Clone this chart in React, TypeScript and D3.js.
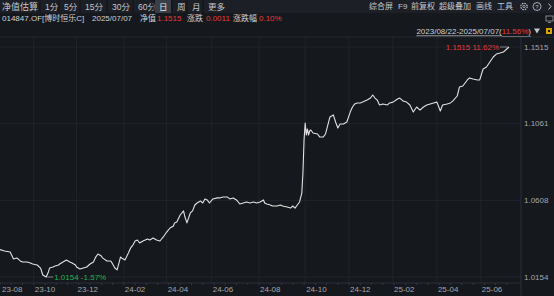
import React from "react";
import * as d3 from "d3";

// ---- data ----
const navDay = [0, 4, 9, 12, 15, 18, 20, 24, 27, 29, 33, 36, 38, 41, 43, 44, 47, 49, 52, 53, 56, 59, 62, 64, 67, 68, 71, 74, 77, 80, 83, 85, 87, 90, 91, 95, 98, 99, 102, 104, 107, 108, 111, 114, 116, 118, 120, 122, 124, 127, 131, 133, 136, 139, 142, 145, 148, 151, 154, 155, 157, 160, 163, 164, 166, 169, 171, 173, 175, 178, 180, 182, 184, 186, 189, 193, 195, 198, 202, 204, 207, 210, 213, 216, 219, 222, 225, 228, 231, 234, 235, 237, 240, 242, 246, 249, 251, 255, 258, 260, 262, 264, 266, 268, 269, 270, 271, 272, 273, 274, 275, 276, 278, 282, 284, 287, 289, 290, 293, 296, 298, 300, 302, 305, 308, 311, 313, 315, 317, 320, 322, 326, 329, 331, 333, 335, 337, 340, 344, 346, 349, 353, 355, 358, 361, 364, 367, 370, 373, 376, 379, 382, 385, 388, 391, 393, 397, 400, 402, 406, 408, 411, 415, 417, 420, 424, 426, 429, 432, 435, 438, 441, 444, 447, 450, 452];
const navValue = [1.0316, 1.0308, 1.0302, 1.0261, 1.0267, 1.0249, 1.0243, 1.0243, 1.0237, 1.0231, 1.0225, 1.0207, 1.0166, 1.0154, 1.0184, 1.0207, 1.0213, 1.0219, 1.0225, 1.0231, 1.0243, 1.0255, 1.0243, 1.0237, 1.0225, 1.0213, 1.0201, 1.0207, 1.0213, 1.0231, 1.0243, 1.0272, 1.029, 1.0278, 1.0267, 1.0249, 1.0249, 1.0243, 1.0207, 1.0196, 1.0272, 1.0267, 1.0255, 1.0296, 1.0326, 1.0343, 1.0367, 1.0373, 1.0355, 1.0367, 1.0379, 1.0373, 1.0385, 1.0373, 1.0367, 1.0391, 1.042, 1.0444, 1.0456, 1.0474, 1.048, 1.0521, 1.0545, 1.0515, 1.0474, 1.0533, 1.0545, 1.058, 1.0592, 1.0604, 1.0592, 1.0616, 1.061, 1.0592, 1.0616, 1.0622, 1.0622, 1.0627, 1.0627, 1.0616, 1.0622, 1.061, 1.0586, 1.0592, 1.0598, 1.0592, 1.0598, 1.0592, 1.0598, 1.061, 1.0592, 1.0586, 1.058, 1.0574, 1.0574, 1.058, 1.0574, 1.0568, 1.0562, 1.0574, 1.0562, 1.058, 1.0598, 1.0651, 1.0769, 1.0965, 1.1065, 1.0994, 1.103, 1.0994, 1.1018, 1.1024, 1.1006, 1.1, 1.0982, 1.0982, 1.1, 1.1024, 1.1101, 1.1113, 1.1071, 1.1036, 1.1059, 1.1059, 1.1071, 1.113, 1.116, 1.1178, 1.1184, 1.1184, 1.1189, 1.1201, 1.1213, 1.1231, 1.1213, 1.1201, 1.1172, 1.1178, 1.1172, 1.1184, 1.1189, 1.1207, 1.1213, 1.1195, 1.1189, 1.1172, 1.113, 1.116, 1.1142, 1.116, 1.1172, 1.1178, 1.1184, 1.1189, 1.1136, 1.1172, 1.1178, 1.1184, 1.1195, 1.1225, 1.1278, 1.1284, 1.132, 1.1332, 1.1326, 1.132, 1.132, 1.1385, 1.1397, 1.1426, 1.1456, 1.1474, 1.1479, 1.1485, 1.1503, 1.1515];
const baseValue = 1.0316;
const lastDay = 452;
const monthDay = [0, 30, 68, 110, 148, 188, 230, 271, 310, 349, 388, 427];
const monthLabel = ["23-08", "23-10", "23-12", "24-02", "24-04", "24-06", "24-08", "24-10", "24-12", "25-02", "25-04", "25-06"];
const tabLabels = ["净值估算", "1分", "5分", "15分", "30分", "60分", "日", "周", "月", "更多"];
const selectedTab = "日";
const toolLabels = ["综合屏", "F9", "前复权", "超级叠加", "画线", "工具"];
const fundName = "014847.OF[博时恒乐C]";
const quoteDate = "2025/07/07";
const navLatest = "1.1515";
const navChange = "0.0011";
const navChangePct = "0.10%";
const rangeText = "2023/08/22-2025/07/07(";
const rangePct = "11.56%";

// ---- layout ----
const W = 554, H = 296;
const plotTop = 37, plotBottom = 283, axisX = 521;
const tabX = [2, 45, 64, 85, 112, 138, 159, 177, 192, 208];
const toolX = [369, 398, 411, 439, 476, 497];
const FONT = "'Liberation Sans', 'Noto Sans CJK SC', Arial, sans-serif";
const BG = "#15181d";
const RED = "#e8393a";
const GREEN = "#22b24c";
const TXT = "#cfd2d6";
const AX = "#a3a7ad";
const GRID = "#23272e";

export default function App() {
  const data = navDay.map((d, i) => ({ d, v: navValue[i] }));
  const vMin = d3.min(navValue)!;
  const vMax = d3.max(navValue)!;
  const x = d3.scaleLinear().domain([0, lastDay]).range([0, 509]);
  const y = d3.scaleLinear().domain([vMin, vMax]).range([277, 47]);
  const line = d3.line<{ d: number; v: number }>().x((p) => x(p.d)).y((p) => y(p.v));
  const yTicks = d3.range(4).map((i) => vMin + ((vMax - vMin) * i) / 3);
  const minPt = data.find((p) => p.v === vMin)!;
  const maxPt = data.find((p) => p.v === vMax)!;
  const pct = (v: number) => ((v / baseValue - 1) * 100).toFixed(2) + "%";
  const minorTicks = d3.range(0, lastDay + 1, 10);

  return (
    <svg width={W} height={H} style={{ position: "fixed", left: 0, top: 0, background: BG }} fontFamily={FONT}>
      <rect width={W} height={H} fill={BG} />
      {/* tab bar */}
      <rect x={0} y={0} width={W} height={13} fill="#1c1f25" />
      {tabLabels.map((t, i) => {
        const sel = t === selectedTab;
        return (
          <g key={t}>
            {sel && <rect x={tabX[i] - 4} y={0} width={16} height={13} fill="#3a3e47" />}
            {i > 0 && <line x1={tabX[i] - 5} x2={tabX[i] - 5} y1={0} y2={13} stroke="#111317" />}
            <text x={tabX[i]} y={6.5} dominantBaseline="central" fontSize={i === 0 ? 9 : 8.5} fill={sel ? "#e6e6e6" : "#c4c7cc"}>
              {t}
            </text>
          </g>
        );
      })}
      {toolLabels.map((t, i) => (
        <text key={t} x={toolX[i]} y={6.5} dominantBaseline="central" fontSize={8} fill="#c4c7cc">
          {t}
        </text>
      ))}
      {/* icons */}
      <circle cx={524} cy={6.5} r={3.2} fill="none" stroke="#b8bbc0" strokeWidth={1.2} strokeDasharray="1.6 0.9" />
      <circle cx={524} cy={6.5} r={1.2} fill="none" stroke="#b8bbc0" strokeWidth={0.8} />
      <circle cx={537} cy={6.5} r={4} fill="none" stroke="#b8bbc0" strokeWidth={0.9} />
      <text x={537} y={6.8} textAnchor="middle" dominantBaseline="central" fontSize={6} fill="#b8bbc0">?</text>
      <path d="M548.5,3.5 L551,6.5 L548.5,9.5" fill="none" stroke="#b8bbc0" strokeWidth={1} />
      <rect x={546} y={16} width={7} height={5} fill="none" stroke="#9ea2a8" strokeWidth={0.8} />
      <line x1={548} x2={551} y1={22.5} y2={22.5} stroke="#9ea2a8" strokeWidth={0.8} />

      {/* info row */}
      <g fontSize={8} dominantBaseline="central">
        <text x={2} y={18} fill={TXT}>{fundName}</text>
        <text x={92} y={18} fill={TXT}>{quoteDate}</text>
        <text x={140} y={18} fill={TXT}>净值</text>
        <text x={157} y={18} fill={RED}>{navLatest}</text>
        <text x={187} y={18} fill={TXT}>涨跌</text>
        <text x={206} y={18} fill={RED}>{navChange}</text>
        <text x={233} y={18} fill={TXT}>涨跌幅</text>
        <text x={259} y={18} fill={RED}>{navChangePct}</text>
      </g>

      {/* range row */}
      <text x={531} y={31} textAnchor="end" dominantBaseline="central" fontSize={8} fill={TXT} textDecoration="underline">
        {rangeText}
        <tspan fill={RED}>{rangePct}</tspan>
        <tspan fill={TXT}>)</tspan>
      </text>
      <path d="M534,28.5 L540,28.5 L537,33.5 Z" fill="#c4c7cc" />
      <rect x={546} y={28} width={6} height={6} fill="#d9a400" />
      <rect x={548} y={30} width={2} height={2} fill="#15181d" />

      {/* grid */}
      <line x1={0} x2={W} y1={plotTop} y2={plotTop} stroke="#262a31" />
      {yTicks.map((t, i) => (
        <line key={"hy" + i} x1={0} x2={axisX} y1={y(t)} y2={y(t)} stroke={GRID} strokeWidth={0.8} />
      ))}
      {monthDay.slice(1).map((d) => (
        <line key={"gx" + d} x1={x(d)} x2={x(d)} y1={plotTop} y2={plotBottom} stroke={GRID} strokeWidth={0.8} />
      ))}
      <line x1={axisX} x2={axisX} y1={plotTop} y2={H} stroke="#2c3038" />
      <line x1={0} x2={axisX} y1={plotBottom} y2={plotBottom} stroke="#2c3038" />
      {minorTicks.map((d) => (
        <line key={"mt" + d} x1={x(d)} x2={x(d)} y1={plotBottom} y2={plotBottom + 2} stroke="#3a3e46" strokeWidth={0.8} />
      ))}

      {/* axis labels */}
      {yTicks.map((t, i) => (
        <text key={"yl" + i} x={524} y={y(t)} dominantBaseline="central" fontSize={8} fill={AX}>
          {t.toFixed(4)}
        </text>
      ))}
      {monthDay.map((d, i) => (
        <text key={"xl" + d} x={i === 0 ? 2 : x(d) + 1} y={289.5} dominantBaseline="central" fontSize={8} fill={AX}>
          {monthLabel[i]}
        </text>
      ))}

      {/* line */}
      <path d={line(data)!} fill="none" stroke="#e2e2e2" strokeWidth={1.1} strokeLinejoin="round" />

      {/* min / max annotations */}
      <line x1={x(minPt.d) + 1} x2={x(minPt.d) + 7} y1={y(minPt.v)} y2={y(minPt.v)} stroke="#9a9ea4" strokeWidth={0.8} />
      <text x={x(minPt.d) + 8} y={y(minPt.v)} dominantBaseline="central" fontSize={8} fill={GREEN}>
        {minPt.v.toFixed(4) + " " + pct(minPt.v)}
      </text>
      <line x1={x(maxPt.d) - 9} x2={x(maxPt.d) - 1} y1={y(maxPt.v)} y2={y(maxPt.v)} stroke="#9a9ea4" strokeWidth={0.8} />
      <text x={x(maxPt.d) - 10} y={y(maxPt.v)} textAnchor="end" dominantBaseline="central" fontSize={8} fill={RED}>
        {maxPt.v.toFixed(4) + " " + pct(maxPt.v)}
      </text>
    </svg>
  );
}
